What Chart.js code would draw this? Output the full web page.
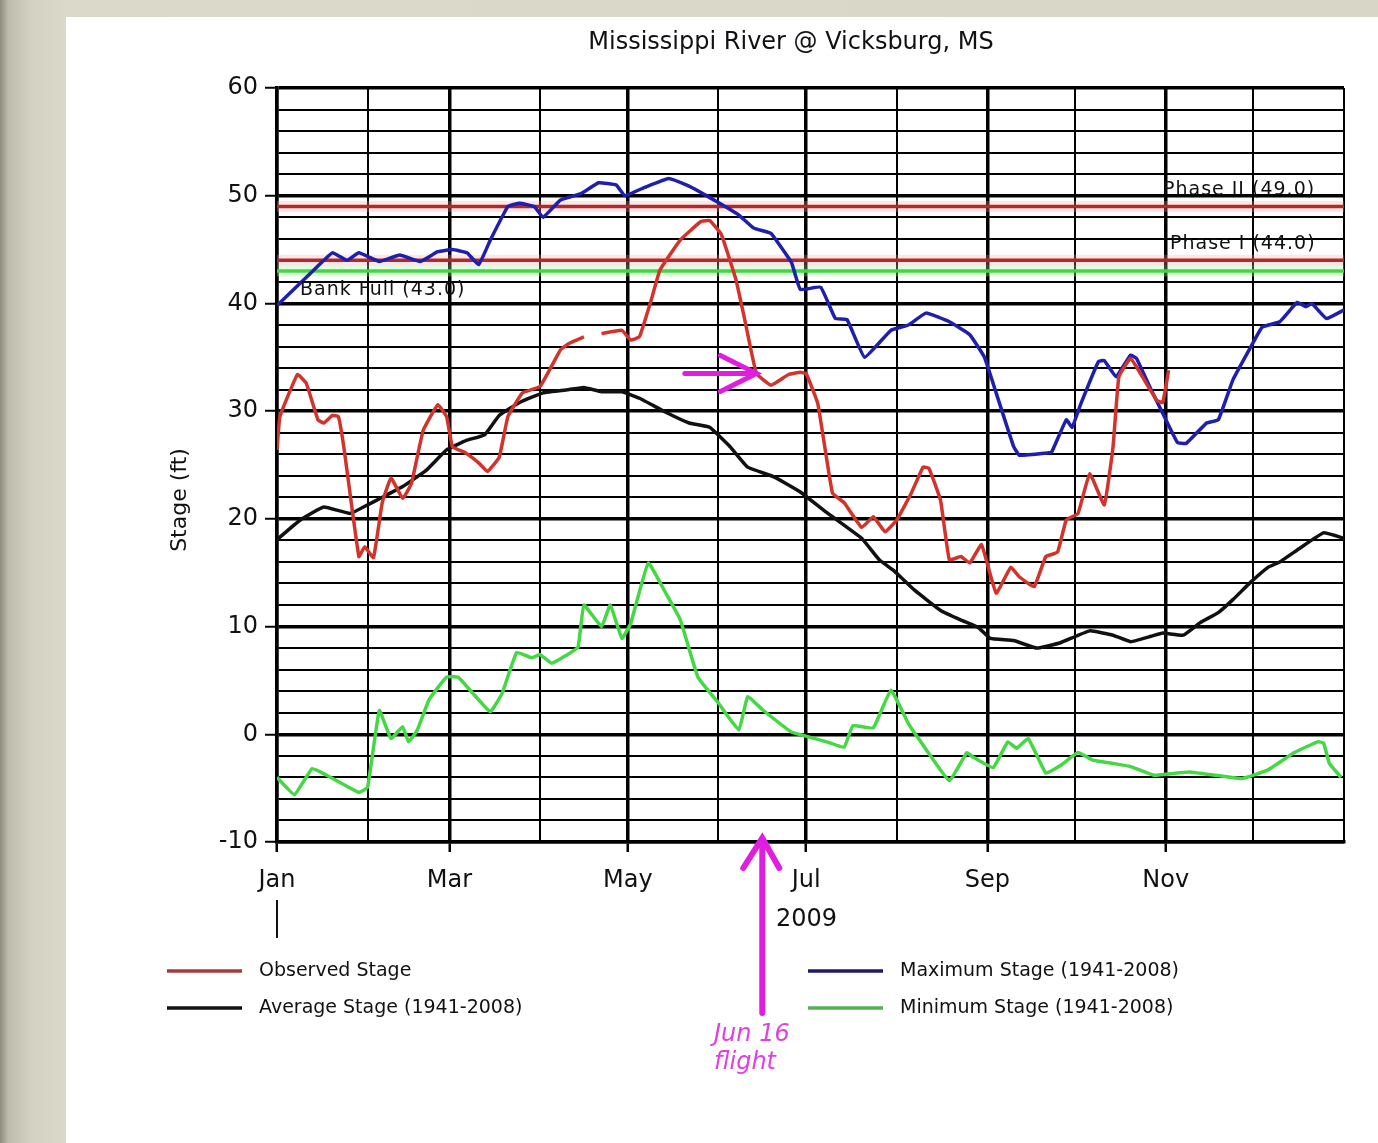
<!DOCTYPE html>
<html>
<head>
<meta charset="utf-8">
<script src="https://cdn.jsdelivr.net/npm/chart.js@4.4.1/dist/chart.umd.min.js"></script>
<style>
html,body{margin:0;padding:0;}
body{width:1378px;height:1143px;overflow:hidden;position:relative;
  background:linear-gradient(90deg,#8e8c7f 0px,#bdbbab 8px,#d3d1c1 30px,#dbd9ca 66px,#d8d6c6 100%);}
#panel{position:absolute;left:66px;top:17px;right:0;bottom:0;background:#fff;}
#stageChart{position:absolute;left:0;top:0;}
</style>
</head>
<body>
<div id="panel"></div>
<canvas id="stageChart" width="1378" height="1143"></canvas>
<script>
// day of year -> month gridlines
const monthStarts = [0, 31, 59, 90, 120, 151, 181, 212, 243, 273, 304, 334, 365];
const monthLabels = ['Jan', '', 'Mar', '', 'May', '', 'Jul', '', 'Sep', '', 'Nov', '', ''];
const stageTicks = [-10,-8,-6,-4,-2,0,2,4,6,8,10,12,14,16,18,20,22,24,26,28,30,32,34,36,38,40,42,44,46,48,50,52,54,56,58,60];

const obsDays = [0,1,7,10,14,16,19,21,23,28,30,33,36,39,43,46,50,55,58,60,64,69,72,76,79,84,90,97,100,105,107,111,118,121,124,128,131,138,145,148,152,157,160,164,169,175,179,181,185,190,194,200,204,208,212,217,221,223,227,230,234,237,241,246,251,254,259,263,267,270,274,278,283,286,288,292,296,301,303,305];
const obsStage = [26.4,29.5,33.4,32.6,29.2,28.9,29.6,29.5,26.4,16.5,17.4,16.4,21.5,23.8,21.9,23.3,28.2,30.6,29.5,26.7,26.2,25.2,24.4,25.7,29.5,31.7,32.3,35.7,36.3,36.9,null,37.2,37.5,36.6,36.9,40.3,43.1,45.9,47.6,47.7,46.4,42.2,38.5,33.5,32.4,33.4,33.6,33.5,30.7,22.4,21.5,19.2,20.2,18.8,19.9,22.4,24.8,24.7,21.7,16.2,16.5,15.9,17.6,13.1,15.5,14.6,13.7,16.5,16.9,19.9,20.5,24.2,21.3,26.7,33.2,34.9,33.2,31.0,30.8,33.8];

const avgDays = [0,1,8,16,25,31,36,43,51,58,65,71,76,83,91,100,105,111,118,124,133,141,148,155,161,170,179,188,200,206,211,218,227,234,240,244,252,260,268,278,286,292,299,303,310,316,322,327,333,339,343,350,358,365];
const avgStage = [18.0,18.3,19.9,21.1,20.5,21.3,22.0,23.0,24.5,26.4,27.3,27.8,29.6,30.8,31.7,32.0,32.2,31.8,31.8,31.2,29.9,28.9,28.5,26.7,24.8,23.9,22.5,20.6,18.2,16.2,15.2,13.4,11.5,10.6,9.9,8.9,8.7,8.0,8.5,9.6,9.2,8.6,9.1,9.4,9.2,10.4,11.3,12.5,14.1,15.5,16.0,17.3,18.7,18.2];

const maxDays = [0,8,16,19,24,28,35,42,49,55,60,65,69,73,79,83,88,91,97,104,110,116,119,126,134,140,145,152,158,163,169,172,176,179,186,191,195,201,210,216,222,230,237,242,246,252,254,263,265,270,272,275,281,283,287,292,294,299,303,308,311,318,322,327,333,337,343,349,352,354,359,365];
const maxStage = [39.8,41.9,44.0,44.7,44.0,44.7,43.9,44.5,43.9,44.8,45.0,44.7,43.6,45.9,49.0,49.3,49.0,48.0,49.6,50.2,51.2,51.0,50.0,50.8,51.6,51.0,50.3,49.2,48.2,47.0,46.5,45.4,43.8,41.3,41.5,38.6,38.5,35.0,37.5,38.0,39.1,38.3,37.1,35.0,31.7,26.7,25.9,26.1,26.2,29.2,28.5,30.7,34.6,34.7,33.2,35.2,34.9,32.0,29.8,27.1,27.0,28.9,29.2,32.9,35.9,37.8,38.3,40.1,39.7,40.0,38.6,39.4];

const minDays = [0,6,12,17,28,31,35,39,43,45,48,52,58,62,67,73,77,82,87,90,94,100,103,105,111,114,118,121,127,133,138,144,151,158,161,166,176,180,188,194,197,204,210,216,220,230,236,238,245,250,253,257,263,268,274,279,286,292,300,312,330,339,348,356,358,360,364];
const minStage = [-4.0,-5.6,-3.2,-3.8,-5.4,-4.9,2.2,-0.4,0.7,-0.7,0.4,3.2,5.3,5.3,3.8,2.1,3.8,7.6,7.1,7.4,6.6,7.5,8.1,12.0,10.0,12.0,8.9,10.3,15.9,13.1,10.6,5.3,2.9,0.4,3.5,2.3,0.2,-0.1,-0.7,-1.2,0.8,0.6,4.1,1.0,-0.6,-4.3,-1.7,-2.1,-3.1,-0.7,-1.3,-0.4,-3.6,-2.9,-1.7,-2.4,-2.7,-3.0,-3.8,-3.5,-4.1,-3.3,-1.7,-0.7,-0.8,-2.7,-4.0];

const floodLevels = [49.0, 44.0, 43.0];
const floodNames = ['Phase II (49.0)', 'Phase I (44.0)', 'Bank Full (43.0)'];
const flightDay = 166; // Jun 16

function pts(days, vals) {
  return days.map((d, i) => ({ x: d, y: vals[i] }));
}

function serie(label, days, vals, color, legendColor) {
  return {
    label: label,
    data: pts(days, vals),
    borderColor: color,
    legendColor: legendColor,
    borderWidth: 3.5,
    pointRadius: 0,
    tension: 0.1,
    spanGaps: false,
    fill: false
  };
}

function floodLine(lv, color) {
  return {
    label: '',
    data: [{ x: 0, y: lv }, { x: 365, y: lv }],
    borderColor: color,
    borderWidth: 3.5,
    pointRadius: 0,
    fill: false
  };
}

const FONT = "'DejaVu Sans', sans-serif";

const annotate = {
  id: 'annotate',
  beforeDatasetsDraw(chart) {
    const { ctx, chartArea: a, scales: { y } } = chart;
    ctx.save();
    floodLevels.forEach((lv, i) => {
      const py = y.getPixelForValue(lv);
      ctx.strokeStyle = i < 2 ? 'rgba(255,160,160,0.28)' : 'rgba(150,255,150,0.3)';
      ctx.lineWidth = 11;
      ctx.beginPath(); ctx.moveTo(a.left, py); ctx.lineTo(a.right, py); ctx.stroke();
    });
    ctx.restore();
  },
  afterDraw(chart) {
    const { ctx, chartArea: a, scales: { x, y } } = chart;
    ctx.save();
    ctx.fillStyle = '#111';

    // title
    ctx.font = '24px ' + FONT;
    ctx.textAlign = 'center';
    ctx.textBaseline = 'middle';
    ctx.fillText('Mississippi River @ Vicksburg, MS', 791, 43);

    // y axis title
    ctx.save();
    ctx.translate(180, 500);
    ctx.rotate(-Math.PI / 2);
    ctx.font = '22px ' + FONT;
    ctx.fillText('Stage (ft)', 0, 0);
    ctx.restore();

    // flood stage labels
    ctx.save();
    ctx.font = '19px ' + FONT;
    ctx.letterSpacing = '1px';
    ctx.textAlign = 'left';
    ctx.textBaseline = 'alphabetic';
    ctx.fillText(floodNames[0], 1163, y.getPixelForValue(floodLevels[0]) - 11);
    ctx.fillText(floodNames[1], 1170, y.getPixelForValue(floodLevels[1]) - 11);
    ctx.textBaseline = 'top';
    ctx.fillText(floodNames[2], 300, y.getPixelForValue(floodLevels[2]) + 9);
    ctx.restore();

    // year label and Jan marker
    ctx.textAlign = 'left';
    ctx.font = '24px ' + FONT;
    ctx.textBaseline = 'middle';
    ctx.fillText('2009', 776, 920);
    ctx.strokeStyle = '#111';
    ctx.lineWidth = 2;
    ctx.beginPath(); ctx.moveTo(a.left, 900); ctx.lineTo(a.left, 938); ctx.stroke();

    // legend
    const spots = [[167, 971], [167, 1008], [808, 971], [808, 1008]];
    ctx.font = '19px ' + FONT;
    chart.data.datasets.slice(0, 4).forEach((ds, i) => {
      const [lx, ly] = spots[i];
      ctx.strokeStyle = ds.legendColor;
      ctx.lineWidth = 3.5;
      ctx.beginPath(); ctx.moveTo(lx, ly); ctx.lineTo(lx + 75, ly); ctx.stroke();
      ctx.fillStyle = '#111';
      ctx.fillText(ds.label, lx + 92, ly);
    });

    // magenta arrows
    ctx.strokeStyle = '#e01ee0';
    ctx.lineCap = 'round';
    ctx.lineWidth = 5;
    const tipX = x.getPixelForValue(164), ay = y.getPixelForValue(33.5);
    ctx.beginPath();
    ctx.moveTo(x.getPixelForValue(139.5), ay); ctx.lineTo(tipX, ay);
    ctx.moveTo(tipX - 36, ay - 18); ctx.lineTo(tipX, ay); ctx.lineTo(tipX - 36, ay + 18);
    ctx.stroke();

    const fx = x.getPixelForValue(flightDay);
    ctx.lineWidth = 6;
    ctx.beginPath();
    ctx.moveTo(fx, 1013); ctx.lineTo(fx, a.bottom - 4);
    ctx.moveTo(fx - 19, a.bottom + 26); ctx.lineTo(fx, a.bottom - 4); ctx.lineTo(fx + 17, a.bottom + 26);
    ctx.stroke();

    ctx.fillStyle = '#e040e0';
    ctx.font = 'italic 24px ' + FONT;
    ctx.textBaseline = 'alphabetic';
    ctx.fillText('Jun 16', 714, 1041);
    ctx.fillText('flight', 714, 1069);
    ctx.restore();
  }
};

new Chart(document.getElementById('stageChart'), {
  type: 'line',
  data: {
    datasets: [
      serie('Observed Stage', obsDays, obsStage, '#d2332a', '#a83a3a'),
      serie('Average Stage (1941-2008)', avgDays, avgStage, '#111111', '#111111'),
      serie('Maximum Stage (1941-2008)', maxDays, maxStage, '#1f1fae', '#1c1c66'),
      serie('Minimum Stage (1941-2008)', minDays, minStage, '#44d844', '#55b055'),
      floodLine(floodLevels[0], '#b02a2a'),
      floodLine(floodLevels[1], '#b02a2a'),
      floodLine(floodLevels[2], '#44d444')
    ]
  },
  options: {
    responsive: false,
    animation: false,
    layout: { padding: { left: 150, right: 34, top: 88, bottom: 0 } },
    plugins: {
      legend: { display: false },
      title: { display: false },
      tooltip: { enabled: false }
    },
    scales: {
      x: {
        type: 'linear',
        min: 0,
        max: 365,
        afterBuildTicks: s => { s.ticks = monthStarts.map(v => ({ value: v })); },
        afterFit: s => { s.height = 301; },
        ticks: {
          autoSkip: false,
          maxRotation: 0,
          padding: 14,
          color: '#111',
          font: { family: FONT, size: 24 },
          callback: v => monthLabels[monthStarts.indexOf(v)]
        },
        grid: {
          color: '#000',
          tickLength: 10,
          lineWidth: c => (c.index % 2 === 0 && c.index < 12) ? 3.5 : 2,
          tickColor: c => (c.index % 2 === 0 && c.index < 12) ? '#000' : 'rgba(0,0,0,0)',
          tickWidth: 2.5
        },
        border: { display: true, color: '#000', width: 3.5 }
      },
      y: {
        min: -10,
        max: 60,
        afterBuildTicks: s => { s.ticks = stageTicks.map(v => ({ value: v })); },
        afterFit: s => { s.width = 127; },
        ticks: {
          autoSkip: false,
          padding: 7,
          color: '#111',
          font: { family: FONT, size: 24 },
          callback: v => (v % 10 === 0 ? v : '')
        },
        grid: {
          color: '#000',
          tickLength: 12,
          lineWidth: c => (c.tick && c.tick.value % 10 === 0) ? 3.5 : 2,
          tickColor: c => (c.tick && c.tick.value % 10 === 0) ? '#000' : 'rgba(0,0,0,0)',
          tickWidth: 2
        },
        border: { display: true, color: '#000', width: 3.5 }
      }
    }
  },
  plugins: [annotate]
});
</script>
</body>
</html>
